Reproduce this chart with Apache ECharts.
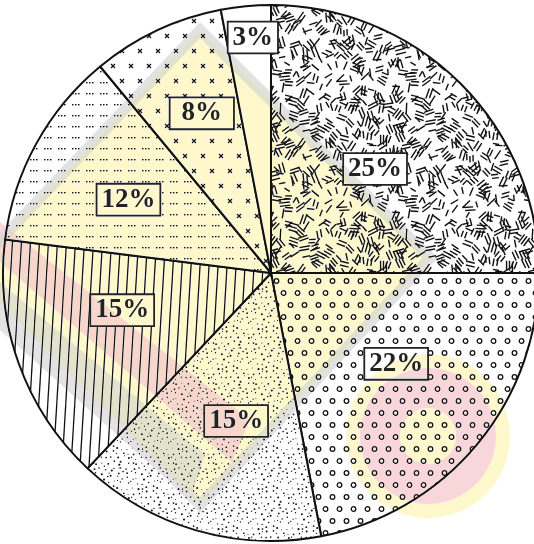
<!DOCTYPE html>
<html>
<head>
<meta charset="utf-8">
<script src="https://cdn.jsdelivr.net/npm/echarts@6/dist/echarts.min.js"></script>
<style>
  html, body { margin: 0; padding: 0; background: #fff; }
  #chart { width: 534px; height: 544px; }
</style>
</head>
<body>
<div id="chart"></div>
<script>
// slices, clockwise from 12 o'clock
var sliceNames = ['A', 'B', 'C', 'D', 'E', 'F', 'G'];
var sliceValues = [25, 22, 15, 15, 12, 8, 3];
var sliceLabels = ['25%', '22%', '15%', '15%', '12%', '8%', '3%'];
// where each label box sits: angle (deg, clockwise from top) and fraction of radius
var labelAngle = [45, 125.9, 193.2, 256.1, 297.2, 336.6, 355.6];
var labelRadius = [0.538, 0.566, 0.556, 0.561, 0.587, 0.638, 0.87];

var PIE_R = 268;
var PIE_C = [271, 273];

// seeded rand, only for the texture tiles
var seed = 23;
function rnd() {
    seed = (seed * 16807) % 2147483647;
    return (seed - 1) / 2147483646;
}

function makeTile(w, h, draw) {
    var c = document.createElement('canvas');
    c.width = w; c.height = h;
    var ctx = c.getContext('2d');
    ctx.fillStyle = '#fff';
    ctx.fillRect(0, 0, w, h);
    ctx.strokeStyle = '#111';
    ctx.fillStyle = '#111';
    draw(ctx, w, h);
    return { image: c, repeat: 'repeat' };
}

// draw at (x,y) and its wrapped copies so the tile is seamless
function wrapDraw(w, h, x, y, fn) {
    for (var ox = -w; ox <= w; ox += w) {
        for (var oy = -h; oy <= h; oy += h) {
            fn(x + ox, y + oy);
        }
    }
}

// short dashes, single or in small parallel bundles, scattered evenly
var patDashes = makeTile(126, 126, function(ctx, w, h){
    ctx.lineWidth = 1.4;
    for (var gx = 0; gx < w; gx += 9) {
        for (var gy = 0; gy < h; gy += 9) {
            var x = gx + rnd() * 9, y = gy + rnd() * 9;
            var a = rnd() * Math.PI, l = 6 + rnd() * 5;
            var q = rnd();
            var n = q < 0.45 ? 1 : (q < 0.85 ? 2 : 3);
            var gap = 2.8 + rnd() * 1.2;
            var ux = Math.cos(a), uy = Math.sin(a);
            for (var k = 0; k < n; k++) {
                var off = (k - (n - 1) / 2) * gap;
                var slide = (rnd() - 0.5) * 3;
                var cx = x - uy * off + ux * slide, cy = y + ux * off + uy * slide;
                wrapDraw(w, h, cx, cy, function(px, py){
                    ctx.beginPath();
                    ctx.moveTo(px - ux * l / 2, py - uy * l / 2);
                    ctx.lineTo(px + ux * l / 2, py + uy * l / 2);
                    ctx.stroke();
                });
            }
        }
    }
});

var patRings = makeTile(14, 24, function(ctx, w, h){
    ctx.lineWidth = 1.3;
    [[3.5, 5], [10.5, 17]].forEach(function(p){
        wrapDraw(w, h, p[0], p[1], function(px, py){
            ctx.beginPath();
            ctx.arc(px, py, 2.3, 0, Math.PI * 2);
            ctx.stroke();
        });
    });
});

var patStipple = makeTile(40, 40, function(ctx, w, h){
    for (var gx = 0; gx < w; gx += 5) {
        for (var gy = 0; gy < h; gy += 5) {
            var x = gx + 2.5 + (rnd() - 0.5) * 4.5, y = gy + 2.5 + (rnd() - 0.5) * 4.5;
            var r = 0.5 + rnd() * 0.55;
            wrapDraw(w, h, x, y, function(px, py){
                ctx.beginPath();
                ctx.arc(px, py, r, 0, Math.PI * 2);
                ctx.fill();
            });
        }
    }
});

var patStripes = makeTile(9, 150, function(ctx, w, h){
    ctx.lineWidth = 1.3;
    for (var c = -9; c <= 18; c += 9) {
        ctx.beginPath();
        ctx.moveTo(c, 0);
        ctx.lineTo(c - 9, h);
        ctx.stroke();
    }
});

var patTriplets = makeTile(14, 11, function(ctx, w, h){
    [2, 5, 8].forEach(function(x){
        ctx.fillRect(x, 5, 1.5, 1.4);
    });
});

var patCrosses = makeTile(36, 30, function(ctx, w, h){
    ctx.lineWidth = 1.2;
    [[5, 6], [23, 6], [14, 21], [32, 21]].forEach(function(p){
        ctx.beginPath();
        ctx.moveTo(p[0] - 2, p[1] - 2); ctx.lineTo(p[0] + 2, p[1] + 2);
        ctx.moveTo(p[0] + 2, p[1] - 2); ctx.lineTo(p[0] - 2, p[1] + 2);
        ctx.stroke();
    });
});

var slicePatterns = [patDashes, patRings, patStipple, patStripes, patTriplets, patCrosses, '#fff'];

var CHART = {
    init: function(){
        var myChart = echarts.init(document.getElementById('chart'), null, { renderer: 'canvas' });
        myChart.setOption(this.build_option());
    },
    label_shift: function(){
        // pie puts inside labels at half radius on the mid angle; move them to the spot wanted
        var total = sliceValues.reduce(function(a, b){ return a + b; }, 0);
        var cum = 0, out = [];
        for (var i = 0; i < sliceValues.length; i++) {
            var mid = (cum + sliceValues[i] / 2) / total * Math.PI * 2;
            cum += sliceValues[i];
            var want = labelAngle[i] * Math.PI / 180;
            var r = labelRadius[i] * PIE_R;
            out.push({
                dx: Math.sin(want) * r - Math.sin(mid) * PIE_R / 2,
                dy: -Math.cos(want) * r + Math.cos(mid) * PIE_R / 2
            });
        }
        return out;
    },
    watermark: function(){
        // faint logo printed over the scan
        var st = function(fill){ return { fill: fill, blend: 'darken' }; };
        return [
            {
                type: 'polygon', silent: true, z: 100,
                shape: { points: [[200, 30], [430, 258], [200, 505], [-30, 272]] },
                style: { fill: '#fef8cc', stroke: '#e2e2e2', lineWidth: 11, blend: 'darken' }
            },
            {
                type: 'polygon', silent: true, z: 101,
                shape: { points: [[0, 222], [250, 420], [232, 462], [0, 262]] },
                style: st('#f9d6da')
            },
            {
                type: 'polygon', silent: true, z: 101,
                shape: { points: [[0, 282], [205, 455], [190, 500], [0, 330]] },
                style: st('#e3e3e3')
            },
            {
                type: 'ring', silent: true, z: 101,
                shape: { cx: 428, cy: 436, r: 82, r0: 68 },
                style: st('#fef8cc')
            },
            {
                type: 'ring', silent: true, z: 101,
                shape: { cx: 428, cy: 436, r: 68, r0: 28 },
                style: st('#f9d6da')
            },
            {
                type: 'circle', silent: true, z: 101,
                shape: { cx: 428, cy: 436, r: 28 },
                style: st('#fef8cc')
            }
        ];
    },
    build_option: function(){
        var shifts = this.label_shift();
        var data = sliceValues.map(function(v, i){
            var lab = { formatter: sliceLabels[i] };
            // the 8% box is drawn as wide as the two-digit ones
            if (sliceLabels[i].length === 2 && i !== sliceValues.length - 1) {
                lab.padding = [3, 11, 0, 11];
            }
            return {
                name: sliceNames[i],
                value: v,
                itemStyle: { color: slicePatterns[i] },
                label: lab
            };
        });
        return {
            animation: false,
            backgroundColor: '#fff',
            series: [{
                type: 'pie',
                center: PIE_C,
                radius: PIE_R,
                startAngle: 90,
                clockwise: true,
                silent: true,
                avoidLabelOverlap: false,
                itemStyle: { borderColor: '#111', borderWidth: 2 },
                label: {
                    show: true,
                    position: 'inside',
                    fontFamily: 'Liberation Serif',
                    fontWeight: 'bold',
                    fontSize: 27,
                    color: '#222',
                    backgroundColor: '#fff',
                    borderColor: '#222',
                    borderWidth: 1.8,
                    padding: [3, 4, 0, 4]
                },
                labelLine: { show: false },
                labelLayout: function(p){
                    return shifts[p.dataIndex];
                },
                emphasis: { disabled: true },
                data: data
            }],
            graphic: this.watermark()
        };
    }
};

CHART.init();
</script>
</body>
</html>
